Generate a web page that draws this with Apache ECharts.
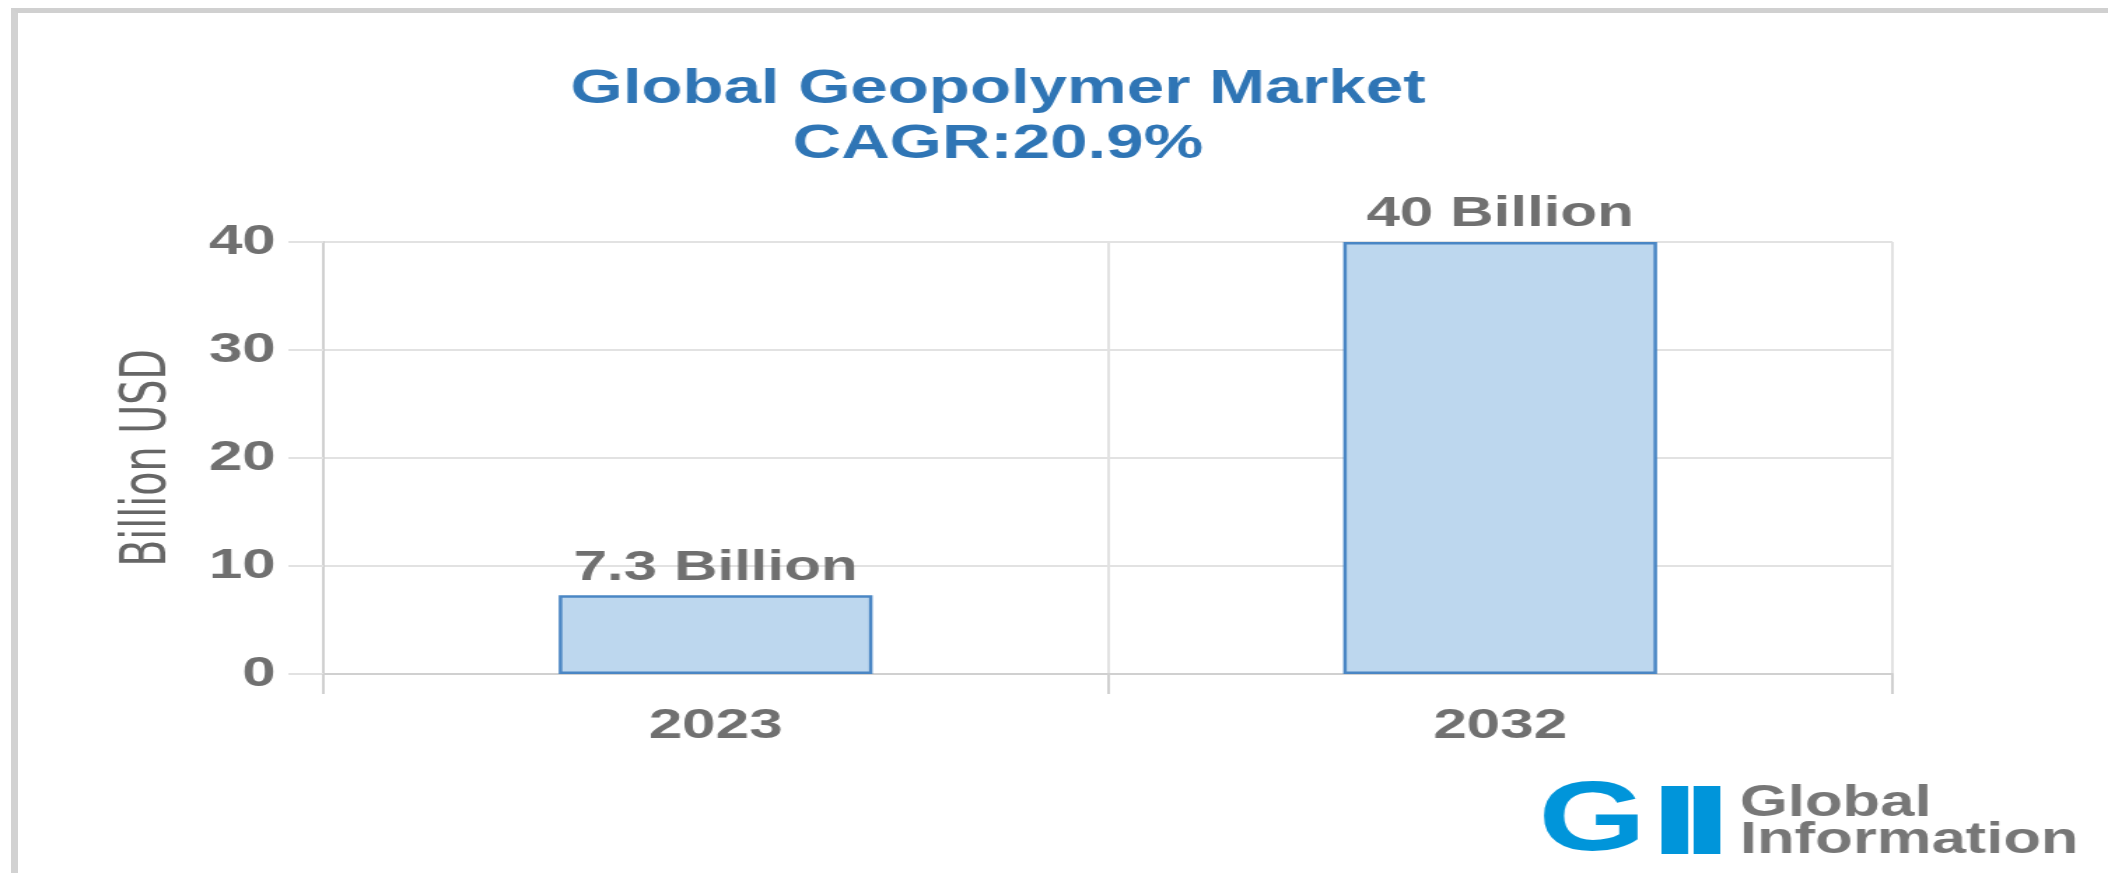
<!DOCTYPE html>
<html>
<head>
<meta charset="utf-8">
<title>Global Geopolymer Market</title>
<script src="https://cdn.jsdelivr.net/npm/echarts@6/dist/echarts.min.js"></script>
<style>
	html, body {
		margin: 0;
		padding: 0;
		width: 2108px;
		height: 873px;
		overflow: hidden;
		background: #ffffff;
	}
	/* grey frame, open to the right and bottom */
	.frame {
		position: absolute;
		left: 11px;
		top: 8px;
		width: 2200px;
		height: 1000px;
		border-left: 7px solid #d2d2d2;
		border-top: 5px solid #d0d0d0;
	}
	/* the picture is stretched sideways, so draw narrow and scale */
	#main {
		position: absolute;
		left: 0;
		top: 0;
		width: 1506px;
		height: 873px;
		transform: scaleX(1.39973);
		transform-origin: 0 0;
	}
</style>
</head>
<body>
<div class="frame"></div>
<div id="main"></div>
<script>
	// data
	var years = ['2023', '2032'];
	var marketValues = [7.3, 40];
	var valueLabels = ['7.3 Billion', '40 Billion'];
	var yMin = 0;
	var yMax = 40;
	var yStep = 10;

	var textGrey = '#707070';
	var fontArial = '"Liberation Sans", Arial, sans-serif';

	var myChart = echarts.init(document.getElementById('main'));

	var option = {
		animation: false,
		backgroundColor: 'transparent',
		title: {
			text: 'Global Geopolymer Market\nCAGR:20.9%',
			left: 708,
			top: 57,
			textAlign: 'center',
			textStyle: {
				color: '#2f75b5',
				fontFamily: fontArial,
				fontWeight: 'bold',
				fontSize: 48,
				lineHeight: 55
			}
		},
		grid: {
			left: 231,
			right: 154,
			top: 242,
			bottom: 199
		},
		xAxis: {
			type: 'category',
			data: years,
			boundaryGap: true,
			axisLine: {
				lineStyle: { color: '#d0d0d0', width: 2 }
			},
			axisTick: {
				show: true,
				length: 20,
				lineStyle: { color: '#d0d0d0', width: 2 }
			},
			splitLine: {
				show: true,
				lineStyle: { color: '#e2e2e2', width: 2 }
			},
			axisLabel: {
				margin: 31,
				color: textGrey,
				fontFamily: fontArial,
				fontWeight: 'bold',
				fontSize: 43
			}
		},
		yAxis: {
			type: 'value',
			min: yMin,
			max: yMax,
			interval: yStep,
			name: 'Billion USD',
			nameLocation: 'middle',
			nameRotate: 90,
			nameGap: 102,
			nameTextStyle: {
				color: '#666666',
				fontFamily: '"DejaVu Sans Condensed", "Liberation Sans Narrow", sans-serif',
				fontWeight: 'normal',
				fontSize: 44
			},
			axisLine: {
				show: true,
				lineStyle: { color: '#d0d0d0', width: 2 }
			},
			axisTick: {
				show: true,
				length: 25,
				lineStyle: { color: '#e2e2e2', width: 2 }
			},
			splitLine: {
				show: true,
				lineStyle: { color: '#e2e2e2', width: 2 }
			},
			axisLabel: {
				margin: 34,
				color: textGrey,
				fontFamily: fontArial,
				fontWeight: 'bold',
				fontSize: 43
			}
		},
		series: [{
			name: 'Market',
			type: 'bar',
			data: marketValues,
			barWidth: '40%',
			itemStyle: {
				color: '#bdd7ee',
				borderColor: '#4a86c4',
				borderWidth: 2.5
			},
			label: {
				show: true,
				position: 'top',
				distance: 6,
				color: textGrey,
				fontFamily: fontArial,
				fontWeight: 'bold',
				fontSize: 43,
				formatter: function (p) {
					return valueLabels[p.dataIndex];
				}
			}
		}],
		// GII logo, bottom right
		graphic: [{
				type: 'text',
				left: 1099,
				top: 773,
				style: {
					text: 'G',
					fill: '#0095da',
					font: 'bold 99px ' + fontArial
				}
			},
			{
				type: 'rect',
				shape: { x: 1187, y: 786, width: 19, height: 68 },
				style: { fill: '#0095da' }
			},
			{
				type: 'rect',
				shape: { x: 1210, y: 786, width: 19, height: 68 },
				style: { fill: '#0095da' }
			},
			{
				type: 'text',
				left: 1243,
				top: 782,
				style: {
					text: 'Global',
					fill: '#777777',
					font: 'bold 44px ' + fontArial
				}
			},
			{
				type: 'text',
				left: 1243,
				top: 819,
				style: {
					text: 'Information',
					fill: '#777777',
					font: 'bold 44px ' + fontArial
				}
			}
		]
	};

	myChart.setOption(option);
</script>
</body>
</html>
